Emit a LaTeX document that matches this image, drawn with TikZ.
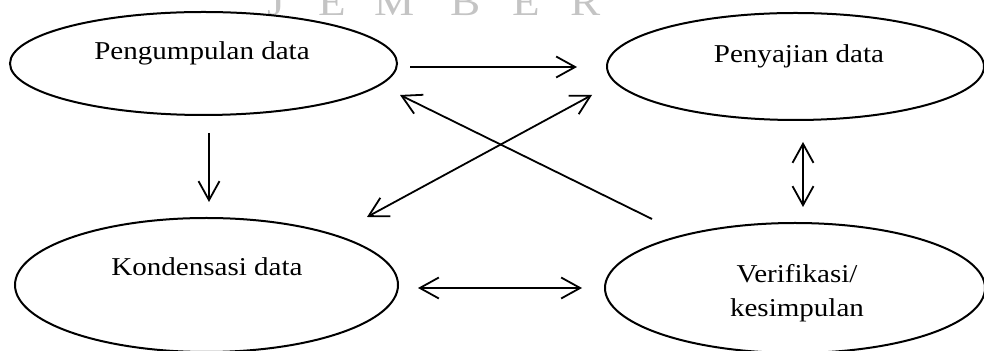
\documentclass[tikz,border=0pt]{standalone}
\usepackage{fontspec}
\setmainfont{Liberation Serif}[FakeStretch=1.13]
\usetikzlibrary{shapes.geometric,arrows.meta}
\definecolor{wmgray}{HTML}{C4C4C4}
\tikzset{
  ell/.style={draw, ellipse, line width=1pt, inner sep=0pt},
  lbl/.style={anchor=base, inner sep=0pt, font=\fontsize{12.85pt}{17pt}\selectfont},
  wm/.style={anchor=base, inner sep=0pt, text=wmgray, font=\fontsize{20pt}{24pt}\selectfont},
  barb/.tip={Straight Barb[length=9.5pt,width=10.5pt]},
  arr/.style={line width=0.9pt, -barb},
  darr/.style={line width=0.9pt, barb-barb}
}
\begin{document}
\begin{tikzpicture}[x=0.5pt,y=-0.5pt]
\useasboundingbox (0,0) rectangle (984,351);
% watermark
\node[wm] (w1) at (276,16) {J};
\node[wm] (w2) at (332,16) {E};
\node[wm] (w3) at (395,16) {M};
\node[wm] (w4) at (466,16) {B};
\node[wm] (w5) at (526,16) {E};
\node[wm] (w6) at (586,16) {R};
% ellipses
\node[ell, minimum width=193.5pt, minimum height=51.5pt] (peng) at (203.5,63.5) {};
\node[ell, minimum width=188.5pt, minimum height=53.5pt] (peny) at (795.5,66.5) {};
\node[ell, minimum width=191.5pt, minimum height=67pt] (kond) at (206.5,285) {};
\node[ell, minimum width=190pt, minimum height=65pt] (veri) at (795,288) {};
% labels
\node[lbl] (tpeng) at (202,60) {Pengumpulan data};
\node[lbl] (tpeny) at (799,63) {Penyajian data};
\node[lbl] (tkond) at (207,276) {Kondensasi data};
\node[lbl] (tveri1) at (797,283) {Verifikasi/};
\node[lbl] (tveri2) at (797,317) {kesimpulan};
% connector ends
\coordinate (a1s) at (410,67);  \coordinate (a1e) at (577,67);
\coordinate (a2s) at (652,219); \coordinate (a2e) at (400,95);
\coordinate (a3s) at (367,217); \coordinate (a3e) at (592,95);
\coordinate (a4s) at (209,133); \coordinate (a4e) at (209,202);
\coordinate (a5s) at (803,142); \coordinate (a5e) at (803,207);
\coordinate (a6s) at (418,288); \coordinate (a6e) at (582,288);
% connectors
\draw[arr] (a1s) -- (a1e);
\draw[arr] (a2s) -- (a2e);
\draw[darr] (a3s) -- (a3e);
\draw[arr] (a4s) -- (a4e);
\draw[darr] (a5s) -- (a5e);
\draw[darr] (a6s) -- (a6e);
\end{tikzpicture}
\end{document}
